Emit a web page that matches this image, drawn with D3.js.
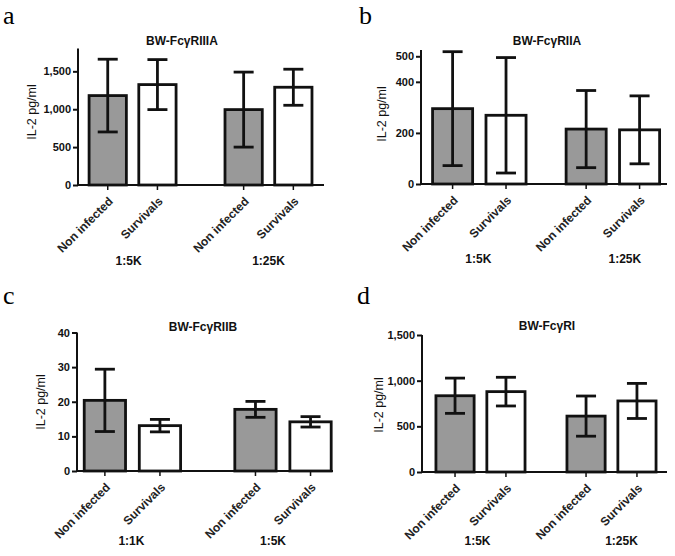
<!DOCTYPE html>
<html><head><meta charset="utf-8">
<script src="https://cdn.jsdelivr.net/npm/d3@7"></script>
<style>body{margin:0;background:#fff}</style>
</head><body><svg id="c" width="675" height="556"></svg>
<script>
const conditions = ["Non infected", "Survivals"];
const groupsABD = ["1:5K", "1:25K"];
const groupsC = ["1:1K", "1:5K"];
const titles = ["BW-FcγRIIIA", "BW-FcγRIIA", "BW-FcγRIIB", "BW-FcγRI"];
const letters = ["a", "b", "c", "d"];
const yLabel = "IL-2 pg/ml";
// order: group1 Non infected, group1 Survivals, group2 Non infected, group2 Survivals
const meansA = [1180, 1325, 995, 1290];
const sdA = [480, 330, 495, 238];
const meansB = [295, 269, 215, 212];
const sdB = [223, 226, 151, 133];
const meansC = [20.4, 13.1, 17.8, 14.2];
const sdC = [9.0, 1.8, 2.3, 1.5];
const meansD = [835, 880, 612, 778];
const sdD = [193, 157, 220, 192];
const ticksA = [0, 500, 1000, 1500];
const ticksB = [0, 200, 400, 500];
const ticksC = [0, 10, 20, 30, 40];
const ticksD = [0, 500, 1000, 1500];
const yMax = [1800, 525, 40, 1500];

const layouts = [
  {x0:78, x1:324, y0:185, yTop:48.6, pi:0.36, po:0.085, al:0.48, tx:182, ty:45, lx:3, ly:24, ylx:32, yly:112, gly:265, gdx:[-4,0]},
  {x0:421, x1:667, y0:184, yTop:49.9, pi:0.30, po:0.071, al:0.61, tx:547, ty:45, lx:359, ly:24, ylx:382, yly:114, gly:263, gdx:[-1,12]},
  {x0:77, x1:333, y0:471, yTop:332.5, pi:0.36, po:0.03, al:0.8, tx:203, ty:331, lx:3, ly:304, ylx:41, yly:402, gly:545, gdx:[-1,-10]},
  {x0:422, x1:667, y0:472, yTop:335, pi:0.32, po:0.095, al:0.56, tx:547, ty:330, lx:357, ly:304, ylx:379, yly:405, gly:545, gdx:[-3,10]}
];

const panels = [
  {groups:groupsABD, means:meansA, sd:sdA, ticks:ticksA},
  {groups:groupsABD, means:meansB, sd:sdB, ticks:ticksB},
  {groups:groupsC, means:meansC, sd:sdC, ticks:ticksC},
  {groups:groupsABD, means:meansD, sd:sdD, ticks:ticksD}
];

const svg = d3.select("#c");
svg.append("rect").attr("width", 675).attr("height", 556).attr("fill", "#fff");
const SANS = "'Liberation Sans', Arial, sans-serif";
const ink = "#111";

panels.forEach((p, k) => {
  const L = layouts[k];
  const g = svg.append("g");
  const y = d3.scaleLinear().domain([0, yMax[k]]).range([L.y0, L.yTop]);
  const x0 = d3.scaleBand().domain(p.groups).range([L.x0, L.x1])
    .paddingInner(L.pi).paddingOuter(L.po).align(L.al);
  const x1 = d3.scaleBand().domain(conditions).range([0, x0.bandwidth()])
    .paddingInner(0.25).paddingOuter(0);
  const data = p.groups.flatMap((gr, i) => conditions.map((c, j) => ({
    g: gr, c: c, m: p.means[i * 2 + j], s: p.sd[i * 2 + j]
  })));
  const cx = d => x0(d.g) + x1(d.c) + x1.bandwidth() / 2;

  // bars
  g.selectAll("rect.bar").data(data).join("rect").attr("class", "bar")
    .attr("x", d => x0(d.g) + x1(d.c)).attr("width", x1.bandwidth())
    .attr("y", d => y(d.m)).attr("height", d => y(0) - y(d.m))
    .attr("fill", d => d.c === conditions[0] ? "#999999" : "#ffffff")
    .attr("stroke", ink).attr("stroke-width", 2.8);

  // error bars
  const eb = g.selectAll("g.eb").data(data).join("g").attr("class", "eb")
    .attr("stroke", ink).attr("stroke-width", 2.8);
  eb.append("line").attr("x1", cx).attr("x2", cx)
    .attr("y1", d => y(d.m - d.s)).attr("y2", d => y(d.m + d.s));
  eb.append("line").attr("x1", d => cx(d) - 10).attr("x2", d => cx(d) + 10)
    .attr("y1", d => y(d.m + d.s)).attr("y2", d => y(d.m + d.s));
  eb.append("line").attr("x1", d => cx(d) - 10).attr("x2", d => cx(d) + 10)
    .attr("y1", d => y(d.m - d.s)).attr("y2", d => y(d.m - d.s));

  // y axis
  const yAxis = d3.axisLeft(y).tickValues(p.ticks).tickSize(5).tickPadding(2)
    .tickFormat(d3.format(","));
  const yg = g.append("g").attr("transform", `translate(${L.x0},0)`).call(yAxis);
  yg.select(".domain").remove();
  yg.selectAll(".tick line").attr("stroke", ink).attr("stroke-width", 2);
  yg.selectAll(".tick text").attr("fill", ink).style("font-family", SANS)
    .style("font-size", "11px").style("font-weight", "bold");
  g.append("line").attr("x1", L.x0).attr("x2", L.x0)
    .attr("y1", y(0) + 1).attr("y2", y(yMax[k])).attr("stroke", ink).attr("stroke-width", 2);
  // x axis
  g.append("line").attr("x1", L.x0 - 1).attr("x2", L.x1)
    .attr("y1", y(0)).attr("y2", y(0)).attr("stroke", ink).attr("stroke-width", 2);
  g.selectAll("line.xt").data(data).join("line").attr("class", "xt")
    .attr("x1", cx).attr("x2", cx).attr("y1", y(0)).attr("y2", y(0) + 5)
    .attr("stroke", ink).attr("stroke-width", 1.5);
  g.selectAll("text.cat").data(data).join("text").attr("class", "cat")
    .attr("transform", d => `translate(${cx(d) + 3},${y(0) + 14}) rotate(-45)`)
    .attr("text-anchor", "end").attr("dy", "0.35em")
    .style("font-family", SANS).style("font-size", "12px").style("font-weight", "bold")
    .attr("fill", "#222").text(d => d.c);
  // group labels
  g.selectAll("text.grp").data(p.groups).join("text").attr("class", "grp")
    .attr("x", (d, i) => x0(d) + x0.bandwidth() / 2 + L.gdx[i]).attr("y", L.gly)
    .attr("text-anchor", "middle").style("font-family", SANS)
    .style("font-size", "12px").style("font-weight", "bold").attr("fill", ink)
    .text(d => d);
  // y label
  g.append("text").attr("transform", `translate(${L.ylx},${L.yly}) rotate(-90)`)
    .attr("text-anchor", "middle").attr("dy", "0.35em")
    .style("font-family", SANS).style("font-size", "12.5px").attr("fill", ink)
    .text(yLabel);
  // title
  g.append("text").attr("x", L.tx).attr("y", L.ty).attr("text-anchor", "middle")
    .style("font-family", SANS).style("font-size", "12px").style("font-weight", "bold")
    .attr("fill", ink).text(titles[k]);
  // panel letter
  svg.append("text").attr("x", L.lx).attr("y", L.ly)
    .style("font-family", "'Liberation Serif', 'Times New Roman', serif")
    .style("font-size", "26px").attr("fill", "#000").text(letters[k]);
});
</script>
</body></html>
